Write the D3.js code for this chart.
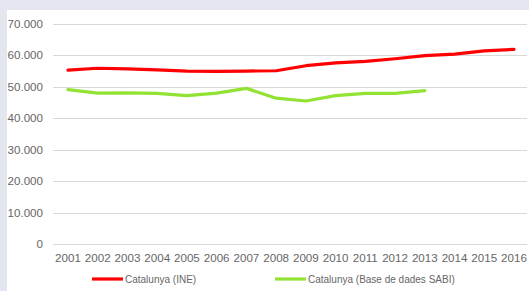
<!DOCTYPE html>
<html>
<head>
<meta charset="utf-8">
<script src="https://cdn.jsdelivr.net/npm/d3@7"></script>
<style>
  body { margin: 0; background: #e3e6ee; }
  svg { display: block; }
</style>
</head>
<body>
<div id="chart"></div>
<script>
const years = ["2001","2002","2003","2004","2005","2006","2007","2008","2009","2010","2011","2012","2013","2014","2015","2016"];
const ine = [55200, 55800, 55600, 55300, 54900, 54800, 54900, 55000, 56600, 57500, 58000, 58800, 59800, 60300, 61300, 61800];
const sabi = [49000, 47900, 48000, 47800, 47100, 47900, 49400, 46300, 45400, 47100, 47800, 47800, 48700];
const yTicks = [0, 10000, 20000, 30000, 40000, 50000, 60000, 70000];
const seriesNames = ["Catalunya (INE)", "Catalunya (Base de dades SABI)"];
const colors = ["#ff0000", "#92e234"];

const W = 529, H = 291;
const svg = d3.select("#chart").append("svg")
    .attr("width", W)
    .attr("height", H);

// white panel
svg.append("rect")
    .attr("x", 7).attr("y", 10)
    .attr("width", W - 7).attr("height", H - 10)
    .attr("fill", "#fff");

const y = d3.scaleLinear().domain([0, 70000]).range([244, 23.5]);
const x = d3.scalePoint().domain(years).range([68, 514]);

const fmt = d => d3.format(",")(d).replace(/,/g, ".");

// gridlines + y labels
svg.append("g")
  .selectAll("line")
  .data(yTicks)
  .join("line")
    .attr("x1", 53).attr("x2", 527)
    .attr("y1", d => Math.round(y(d)) + 0.5)
    .attr("y2", d => Math.round(y(d)) + 0.5)
    .attr("stroke", "#d9d9d9")
    .attr("stroke-width", 1);

svg.append("g")
  .selectAll("text")
  .data(yTicks)
  .join("text")
    .attr("x", 43)
    .attr("y", d => y(d) + 4)
    .attr("text-anchor", "end")
    .attr("fill", "#666")
    .style("font", "11.6px 'Liberation Sans', Arial, sans-serif")
    .text(fmt);

// x labels
svg.append("g")
  .selectAll("text")
  .data(years)
  .join("text")
    .attr("x", d => x(d))
    .attr("y", 262)
    .attr("text-anchor", "middle")
    .attr("fill", "#666")
    .style("font", "11.6px 'Liberation Sans', Arial, sans-serif")
    .text(d => d);

// lines
const line = d3.line()
    .x((d, i) => x(years[i]))
    .y(d => y(d));

[ine, sabi].forEach((vals, k) => {
  svg.append("path")
    .datum(vals)
    .attr("d", line)
    .attr("fill", "none")
    .attr("stroke", colors[k])
    .attr("stroke-width", 3.2)
    .attr("stroke-linejoin", "round")
    .attr("stroke-linecap", "round");
});

// legend
const legX = [92, 275];
seriesNames.forEach((name, k) => {
  svg.append("line")
    .attr("x1", legX[k]).attr("x2", legX[k] + 31)
    .attr("y1", 279).attr("y2", 279)
    .attr("stroke", colors[k])
    .attr("stroke-width", 3.2);
  svg.append("text")
    .attr("x", legX[k] + 33)
    .attr("y", 282.5)
    .attr("fill", "#666")
    .style("font", "10px 'Liberation Sans', Arial, sans-serif")
    .text(name);
});
</script>
</body>
</html>
